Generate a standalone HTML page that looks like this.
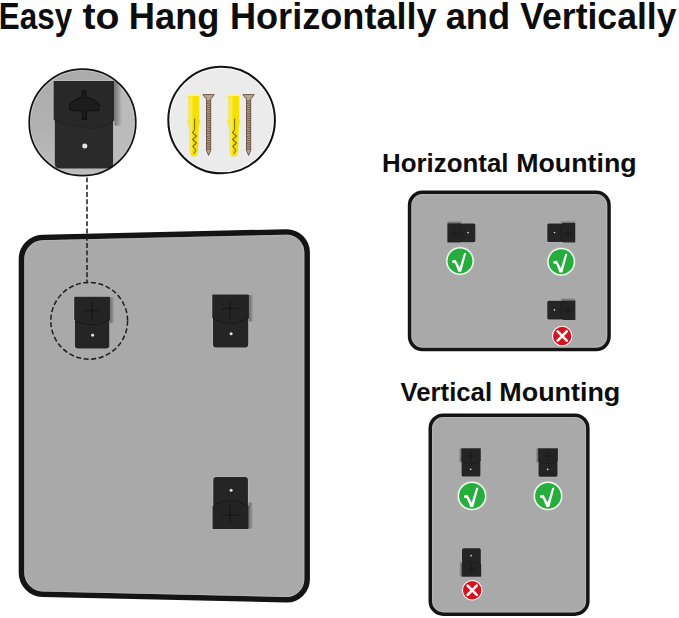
<!DOCTYPE html>
<html><head><meta charset="utf-8">
<style>
html,body{margin:0;padding:0;background:#fff;}
body{width:679px;height:618px;overflow:hidden;position:relative;}
svg{position:absolute;left:0;top:0;display:block;}
text{font-family:"Liberation Sans",sans-serif;font-weight:bold;fill:#0d0d0d;}
</style></head>
<body>
<svg width="679" height="618" viewBox="0 0 679 618">
<defs>
  <linearGradient id="shg" x1="0" x2="1" y1="0" y2="0"><stop offset="0" stop-color="#000" stop-opacity="0.38"/><stop offset="1" stop-color="#000" stop-opacity="0"/></linearGradient>
  <!-- bracket, vertical, hook on top; 36x52 -->
  <symbol id="br" viewBox="0 0 36 52" overflow="visible">
    <path d="M-0.7 -0.6 L36.7 -0.6 L36.7 24 L36.1 24 L36.1 49 Q36.1 52.7 32.4 52.7 L3.6 52.7 Q-0.1 52.7 -0.1 49 L-0.1 24 L-0.7 24 Z" fill="#c6c6c6" opacity="0.5"/>
    <rect x="36.1" y="0.5" width="4.5" height="26" fill="url(#shg)"/>
    <path d="M0.7 20 L35.3 20 L35.3 49 Q35.3 52 32.3 52 L3.7 52 Q0.7 52 0.7 49 Z" fill="#2a2a2a"/>
    <path d="M0 0.4 Q0 0 0.4 0 L35.6 0 Q36 0 36 0.4 L36 23.5 Q27 29.5 18 27.8 Q8 26.2 0 23 Z" fill="#282828"/>
    <path d="M0.7 23.3 Q8 26.2 18 27.8 Q27 29.5 35.3 23.9" fill="none" stroke="#232323" stroke-width="0.7"/>
    <path d="M16.9 5.8 L19.2 5.8 L19.2 9.6 Q21.5 10.2 24 11.4 Q26.2 12.4 27.1 14.3 L26.7 17.5 L19.45 17.9 L19.45 22.9 L17.0 22.9 L17.0 17.9 L9.8 17.5 L9.45 14.3 Q10.4 12.4 12.8 11.4 Q15 10.2 16.9 9.6 Z" fill="#1c1c1c" stroke="#0f0f0f" stroke-width="0.6" stroke-linejoin="round"/>
    <circle cx="18.5" cy="38.6" r="1.5" fill="#e4e4e4"/>
  </symbol>
  <symbol id="brs" viewBox="0 0 36 52" overflow="visible">
    <path d="M-0.7 -0.6 L36.7 -0.6 L36.7 24 L36.1 24 L36.1 49 Q36.1 52.7 32.4 52.7 L3.6 52.7 Q-0.1 52.7 -0.1 49 L-0.1 24 L-0.7 24 Z" fill="#c6c6c6" opacity="0.5"/>
    <rect x="36.1" y="0.5" width="4.5" height="26" fill="url(#shg)"/>
    <path d="M0.7 20 L35.3 20 L35.3 49 Q35.3 52 32.3 52 L3.7 52 Q0.7 52 0.7 49 Z" fill="#252525"/>
    <path d="M0 0.4 Q0 0 0.4 0 L35.6 0 Q36 0 36 0.4 L36 23.5 Q27 29.5 18 27.8 Q8 26.2 0 23 Z" fill="#242424"/>
    <path d="M1.5 24.6 Q9 27.6 17.8 28.2 Q27 28.6 35 22" fill="none" stroke="#161616" stroke-width="0.95"/>
    <path d="M9.5 15.2 Q13.5 12.6 17.6 13.8 Q22 14.6 26 13.2" fill="none" stroke="#171717" stroke-width="1.3"/>
    <path d="M17.6 5.5 L17.6 24" stroke="#171717" stroke-width="1.3"/>
    <circle cx="18.5" cy="38.6" r="1.5" fill="#e4e4e4"/>
  </symbol>
  <symbol id="chk" viewBox="-15 -15 30 30" overflow="visible">
    <circle r="14.4" fill="#d8ecd8" opacity="0.45"/>
    <circle r="13.8" fill="#f4fff4"/>
    <circle r="12.5" fill="#27ad3d"/>
    <path d="M-7.8 -0.5 L-4.3 -0.9 L-0.3 6.5 L4.2 -8.0 L6.2 -8.0 L1.2 10.8 L-1.6 10.8 L-5.0 2.2 L-7.7 1.7 Z" fill="#fff"/>
  </symbol>
  <symbol id="xx" viewBox="-11 -11 22 22" overflow="visible">
    <circle r="10.3" fill="#fff4f4"/>
    <circle r="9.2" fill="#d5121f"/>
    <path d="M-4.6 -4.6 L4.6 4.6 M4.6 -4.6 L-4.6 4.6" stroke="#fff" stroke-width="2.6" stroke-linecap="round"/>
  </symbol>
  <linearGradient id="c1g" x1="0" y1="0" x2="0" y2="1"><stop offset="0" stop-color="#a9a9a9"/><stop offset="0.55" stop-color="#b2b2b2"/><stop offset="1" stop-color="#c0c0c0"/></linearGradient>
  <clipPath id="c1"><circle cx="82.5" cy="122.4" r="53.4"/></clipPath>
</defs>

<!-- Title -->
<text x="-1.13" y="28.8" font-size="36" textLength="73.26" lengthAdjust="spacingAndGlyphs">Easy</text>
<text x="82.48" y="28.8" font-size="36" textLength="37.01" lengthAdjust="spacingAndGlyphs">to</text>
<text x="128.84" y="28.8" font-size="36" textLength="90.65" lengthAdjust="spacingAndGlyphs">Hang</text>
<text x="229.94" y="28.8" font-size="36" textLength="206.77" lengthAdjust="spacingAndGlyphs">Horizontally</text>
<text x="445.71" y="28.8" font-size="36" textLength="64.46" lengthAdjust="spacingAndGlyphs">and</text>
<text x="520.34" y="28.8" font-size="36" textLength="156.08" lengthAdjust="spacingAndGlyphs">Vertically</text>

<!-- Circle 1: bracket zoom -->
<g clip-path="url(#c1)">
  <rect x="20" y="60" width="130" height="130" fill="url(#c1g)"/>
  <rect x="113" y="60" width="30" height="130" fill="#bbbbbb"/>
  <circle cx="82.5" cy="122.4" r="52.2" fill="none" stroke="#c6c6c6" stroke-width="1.6"/>
  <use href="#br" x="53.5" y="80.9" width="60.9" height="87.6"/>
</g>
<circle cx="82.5" cy="122.4" r="53.3" fill="none" stroke="#111" stroke-width="1.7"/>

<!-- Circle 2: screws -->
<circle cx="221.6" cy="120.05" r="53.3" fill="#fafafa" stroke="#111" stroke-width="2"/>
<circle cx="221.6" cy="120.05" r="51.4" fill="#ebebeb"/>
<g id="scr">
  <path d="M187.4 93.6 L200.2 93.6 L200 96.2 L199.3 96.6 L199.2 118 L200.4 124.5 L199 124 L198.2 150 Q197.6 156.6 193.8 156.6 Q190.1 156.6 189.6 150 L188.8 124 L187.4 124.5 L188.6 118 L188.4 96.6 L187.6 96.2 Z" fill="#f4e100"/>
  <path d="M188.4 96.6 L192.6 96.6 L192.2 150 Q191.8 155.5 190.6 154.5 L189.6 150 L188.8 124 L188.6 118 Z" fill="#f8ee70" opacity="0.75"/>
  <rect x="187.4" y="93.4" width="12.8" height="2.4" fill="#faf4b8"/>
  <path d="M194.6 118.5 L194.6 130 L192.4 132.5 L196.4 136 L192.6 139.5 L196.4 143 L192.8 146.5 L195.8 150 L194 153.5" fill="none" stroke="#807000" stroke-width="1.1" stroke-linejoin="round"/>
  <path d="M202.8 94.6 L214.2 94.6 L210.7 99.2 L210.7 150.5 L208.6 155.4 L206.5 150.5 L206.5 99.2 Z" fill="#b8a694" stroke="#5a4030" stroke-width="0.8" stroke-linejoin="round"/>
  <path d="M206.5 101.6 L210.7 100.4 M206.5 103.8 L210.7 102.6 M206.5 106.0 L210.7 104.8 M206.5 108.2 L210.7 107.0 M206.5 110.4 L210.7 109.2 M206.5 112.6 L210.7 111.4 M206.5 114.8 L210.7 113.6 M206.5 117.0 L210.7 115.8 M206.5 119.2 L210.7 118.0 M206.5 121.4 L210.7 120.2 M206.5 123.6 L210.7 122.4 M206.5 125.8 L210.7 124.6 M206.5 128.0 L210.7 126.8 M206.5 130.2 L210.7 129.0 M206.5 132.4 L210.7 131.2 M206.5 134.6 L210.7 133.4 M206.5 136.8 L210.7 135.6 M206.5 139.0 L210.7 137.8 M206.5 141.2 L210.7 140.0 M206.5 143.4 L210.7 142.2 M206.5 145.6 L210.7 144.4 M206.5 147.8 L210.7 146.6 M206.5 150.0 L210.7 148.8" stroke="#5a4030" stroke-width="0.8"/>
</g>
<use href="#scr" x="40" y="0"/>


<!-- Mirror -->
<path d="M21.50 258.92 C21.50 247.32 30.90 237.70 42.49 237.44 L286.11 231.96 C297.70 231.70 307.10 240.89 307.10 252.49 L307.10 579.21 C307.10 590.81 297.70 600.00 286.11 599.74 L42.49 594.26 C30.90 594.00 21.50 584.38 21.50 572.78 Z" fill="#a9a9a9" stroke="#141414" stroke-width="5.6"/>
<path d="M24.70 259.04 C24.70 249.10 32.76 240.86 42.70 240.64 L285.90 235.17 C295.84 234.94 303.90 242.82 303.90 252.76 L303.90 578.94 C303.90 588.88 295.84 596.76 285.90 596.53 L42.70 591.06 C32.76 590.84 24.70 582.60 24.70 572.66 Z" fill="none" stroke="#bdbdbd" stroke-width="0.8" opacity="0.8"/>

<!-- dashed connector -->
<line x1="87" y1="177.4" x2="87" y2="282.5" stroke="#1e1e1e" stroke-width="1.5" stroke-dasharray="4.9 2.4"/>
<!-- dashed circle on mirror -->
<circle cx="89.2" cy="320.8" r="38.4" fill="none" stroke="#1e1e1e" stroke-width="1.5" stroke-dasharray="5 2.6"/>
<use href="#brs" x="74.2" y="296.8" width="35.8" height="51.8"/>
<use href="#brs" x="212.2" y="294.5" width="36.8" height="53"/>
<g transform="translate(212.5 529) scale(1 -1)"><use href="#brs" x="0" y="0" width="36.2" height="52.1"/></g>

<!-- Horizontal Mounting -->
<text x="382.06" y="171.9" font-size="26.3" textLength="126.43" lengthAdjust="spacingAndGlyphs">Horizontal</text>
<text x="516.2" y="171.9" font-size="26.3" textLength="120.41" lengthAdjust="spacingAndGlyphs">Mounting</text>
<rect x="409.55" y="192.15" width="199.5" height="157.3" rx="13" fill="#a9a9a9" stroke="#141414" stroke-width="3.5"/>
<rect x="411.9" y="194.5" width="194.8" height="152.6" rx="11" fill="none" stroke="#bcbcbc" stroke-width="0.8" opacity="0.7"/>
<!-- bracket rotated: hook left -->
<g transform="translate(447.2 242.6) rotate(-90)"><use href="#brs" x="0" y="0" width="19.4" height="28.3"/></g>
<g transform="matrix(0 -1 -1 0 575.8 242.5)"><use href="#brs" x="0" y="0" width="19.4" height="29"/></g>
<g transform="matrix(0 -1 -1 0 575.8 319.9)"><use href="#brs" x="0" y="0" width="19.5" height="28.9"/></g>
<g transform="translate(460 261)"><use href="#chk" x="-15" y="-15" width="30" height="30"/></g>
<g transform="translate(561.2 261.7)"><use href="#chk" x="-15" y="-15" width="30" height="30"/></g>
<g transform="translate(562.2 336)"><use href="#xx" x="-11" y="-11" width="22" height="22"/></g>

<!-- Vertical Mounting -->
<text x="400.49" y="400.8" font-size="26.3" textLength="91.61" lengthAdjust="spacingAndGlyphs">Vertical</text>
<text x="499.29" y="400.8" font-size="26.3" textLength="121.03" lengthAdjust="spacingAndGlyphs">Mounting</text>
<rect x="430.25" y="415.15" width="157.6" height="199" rx="13" fill="#a9a9a9" stroke="#141414" stroke-width="3.5"/>
<rect x="432.6" y="417.5" width="152.9" height="194.3" rx="11" fill="none" stroke="#bcbcbc" stroke-width="0.8" opacity="0.7"/>
<g transform="translate(480.8 448.1) scale(-1 1)"><use href="#brs" x="0" y="0" width="19.6" height="28.7"/></g>
<g transform="translate(557.9 448.1) scale(-1 1)"><use href="#brs" x="0" y="0" width="19.8" height="28.7"/></g>
<g transform="translate(481.2 576.8) rotate(180)"><use href="#brs" x="0" y="0" width="19.6" height="28.6"/></g>
<g transform="translate(472 495.9)"><use href="#chk" x="-15.5" y="-15.5" width="31" height="31"/></g>
<g transform="translate(548 495.9)"><use href="#chk" x="-15.5" y="-15.5" width="31" height="31"/></g>
<g transform="translate(472.2 590.2)"><use href="#xx" x="-11" y="-11" width="22" height="22"/></g>
</svg>
</body></html>
